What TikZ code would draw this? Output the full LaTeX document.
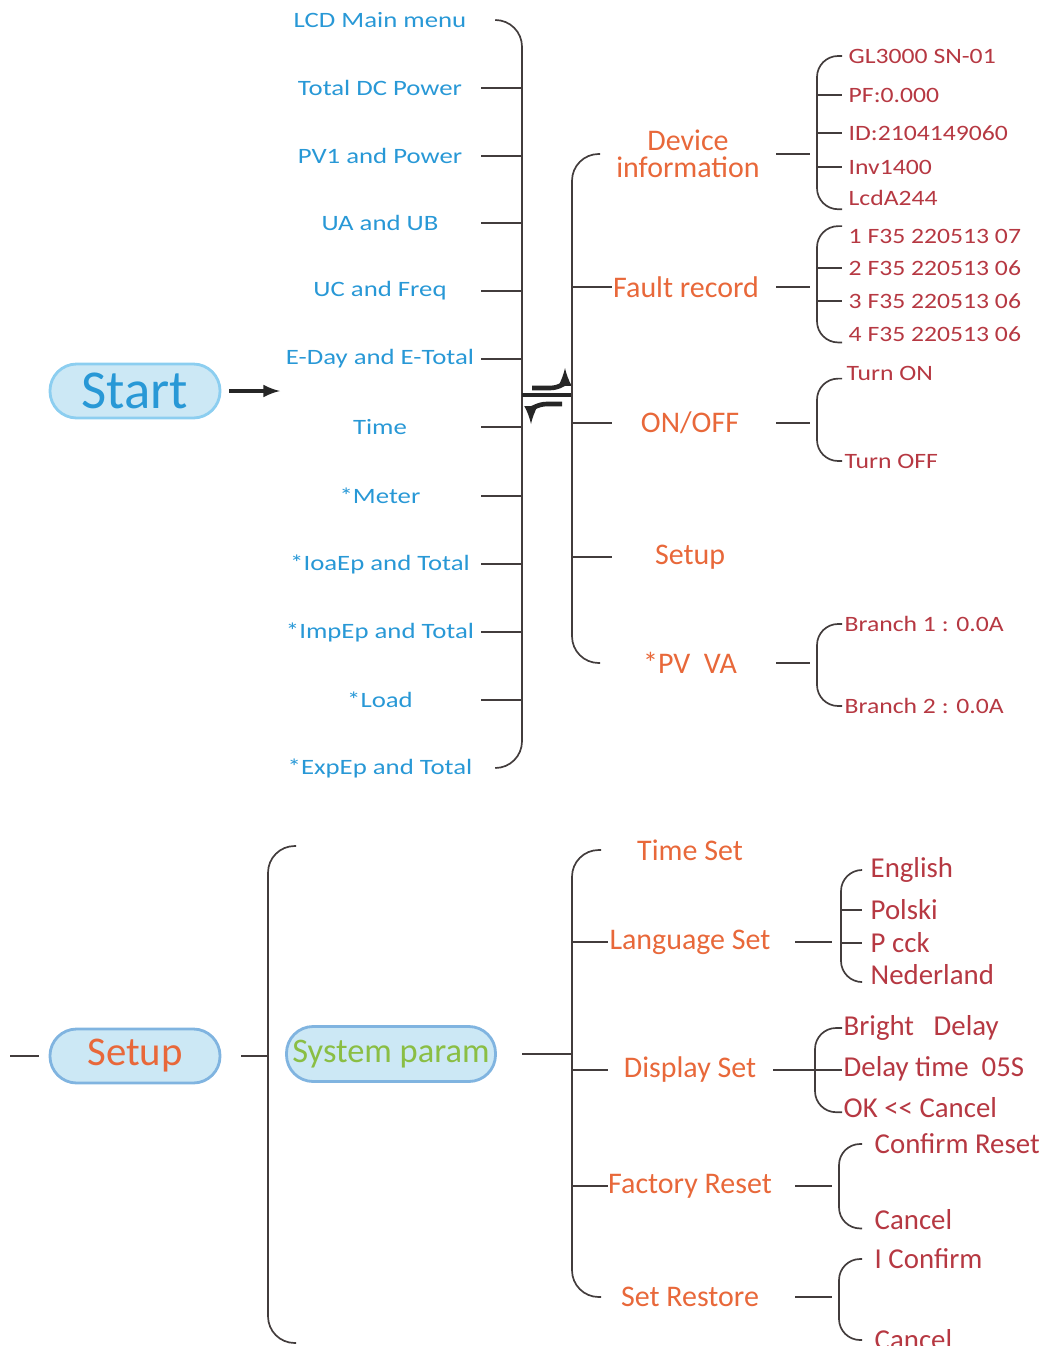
\documentclass[tikz,border=0pt]{standalone}
\usepackage{fontspec}
\setmainfont{Carlito}
\newfontfamily\bluefont[FakeStretch=1.22]{Carlito}
\newfontfamily\redfont[FakeStretch=1.17]{Carlito}
\definecolor{menublue}{RGB}{40,152,214}
\definecolor{menuorange}{RGB}{232,104,58}
\definecolor{itemred}{RGB}{182,56,66}
\definecolor{paramgreen}{RGB}{138,190,68}
\definecolor{pillfill}{RGB}{204,232,245}
\definecolor{startedge}{RGB}{140,206,240}
\definecolor{setupedge}{RGB}{128,180,224}
\definecolor{wire}{RGB}{66,60,60}
\tikzset{
  conn/.style={draw=wire, line width=1.2pt},
  brace/.style={conn, rounded corners=15pt},
  bigbrace/.style={conn, rounded corners=19pt},
  mainitem/.style={text=menublue, inner sep=1pt, font=\bluefont\fontsize{15.6}{18}\selectfont},
  subitem/.style={text=menuorange, inner sep=1pt, align=center, font=\fontsize{21.3}{19.5}\selectfont},
  leaf/.style={text=itemred, inner sep=1pt, anchor=west, font=\redfont\fontsize{15.6}{18}\selectfont},
  bigleaf/.style={text=itemred, inner sep=1pt, anchor=west, font=\fontsize{20.5}{24}\selectfont},
  pill/.style={rectangle, rounded corners=19pt, fill=pillfill, line width=2pt, minimum height=1.35cm}
}
\begin{document}
\begin{tikzpicture}[x=0.025cm, y=-0.025cm]
    \useasboundingbox (0,0) rectangle (1055,1346);
    % Inicio y menu principal
    \node[pill, draw=startedge, minimum width=4.25cm, text=menublue, font=\fontsize{39}{40}\selectfont] (start) at (135,391) {Start};
    \coordinate (starttip) at (280,391);
    \draw[-latex, line width=3pt, draw=black!85] (start.east) ++(5.5pt,0) -- (starttip);
    \node[mainitem] (lcd) at (380,20) {LCD Main menu};
    \node[mainitem] (dcpow) at (380,88) {Total DC Power};
    \node[mainitem] (pv1) at (380,156) {PV1 and Power};
    \node[mainitem] (uaub) at (380,223) {UA and UB};
    \node[mainitem] (ucfreq) at (380,291) {UC and Freq};
    \node[mainitem] (eday) at (380,359) {E-Day and E-Total};
    \node[mainitem] (time) at (380,427) {Time};
    \node[mainitem] (meter) at (380,496) {*Meter};
    \node[mainitem] (ioaep) at (380,564) {*IoaEp and Total};
    \node[mainitem] (impep) at (380,632) {*ImpEp and Total};
    \node[mainitem] (load) at (380,700) {*Load};
    \node[mainitem] (expep) at (380,768) {*ExpEp and Total};
    \coordinate (lstub) at (481,0);
    \coordinate (lend) at (496,0);
    \coordinate (lspine) at (522,0);
    \draw[bigbrace] (lcd -| lend) -- (lcd -| lspine) -- (expep -| lspine) -- (expep -| lend);
    \draw[conn] (dcpow -| lstub) -- (dcpow -| lspine) (pv1 -| lstub) -- (pv1 -| lspine)
        (uaub -| lstub) -- (uaub -| lspine) (ucfreq -| lstub) -- (ucfreq -| lspine)
        (eday -| lstub) -- (eday -| lspine) (time -| lstub) -- (time -| lspine)
        (meter -| lstub) -- (meter -| lspine) (ioaep -| lstub) -- (ioaep -| lspine)
        (impep -| lstub) -- (impep -| lspine) (load -| lstub) -- (load -| lspine);
    % Cambio entre menus
    \draw[line width=2.2pt, draw=black!85] (522,395) -- (572,395);
    \draw[-latex, line width=3.3pt, draw=black!85] (532,388) -- (550,388) .. controls (560,388) and (565,382) .. (565,368);
    \draw[-latex, line width=3.3pt, draw=black!85] (562,404) -- (547,404) .. controls (537,404) and (531,410) .. (531,424);
    % Submenu
    \node[subitem] (devinfo) at (688,154) {Device\\information};
    \node[subitem] (fault) at (686,287) {Fault record};
    \node[subitem] (onoff) at (690,423) {ON/OFF};
    \node[subitem] (setupitem) at (690,557) {Setup};
    \node[subitem] (pvva) at (690,663) {*PV~~VA};
    \coordinate (mspine) at (572,0);
    \coordinate (mend) at (600,0);
    \coordinate (mstub) at (612,0);
    \draw[bigbrace] (devinfo -| mend) -- (devinfo -| mspine) -- (pvva -| mspine) -- (pvva -| mend);
    \draw[conn] (fault -| mspine) -- (fault -| mstub) (onoff -| mspine) -- (onoff -| mstub)
        (setupitem -| mspine) -- (setupitem -| mstub);
    \coordinate (rin) at (776,0);
    \coordinate (rout) at (810,0);
    \draw[conn] (devinfo -| rin) -- (devinfo -| rout) (fault -| rin) -- (fault -| rout)
        (onoff -| rin) -- (onoff -| rout) (pvva -| rin) -- (pvva -| rout);
    % Datos de cada submenu
    \node[leaf] (gl) at (847,56) {GL3000 SN-01};
    \node[leaf] (pf) at (847,95) {PF:0.000};
    \node[leaf] (idn) at (847,133) {ID:2104149060};
    \node[leaf] (inv) at (847,167) {Inv1400};
    \node[leaf] (lcda) at (847,198) {LcdA244};
    \node[leaf] (fa) at (847,236) {1 F35 220513 07};
    \node[leaf] (fb) at (847,268) {2 F35 220513 06};
    \node[leaf] (fc) at (847,301) {3 F35 220513 06};
    \node[leaf] (fd) at (847,334) {4 F35 220513 06};
    \node[leaf] (ton) at (845,373) {Turn ON};
    \node[leaf] (toff) at (843,461) {Turn OFF};
    \node[leaf] (bra) at (843,624) {Branch 1 : 0.0A};
    \node[leaf] (brb) at (843,706) {Branch 2 : 0.0A};
    \coordinate (rspine) at (817,0);
    \coordinate (rend) at (842,0);
    \draw[brace] (gl -| rend) -- (gl -| rspine) -- ([yshift=-8pt]lcda.center -| rspine) -- ([yshift=-8pt]lcda.center -| rend);
    \draw[conn] (pf -| rspine) -- (pf -| rend) (idn -| rspine) -- (idn -| rend) (inv -| rspine) -- (inv -| rend);
    \draw[brace] ([yshift=7pt]fa.center -| rend) -- ([yshift=7pt]fa.center -| rspine) -- ([yshift=-6pt]fd.center -| rspine) -- ([yshift=-6pt]fd.center -| rend);
    \draw[conn] (fb -| rspine) -- (fb -| rend) (fc -| rspine) -- (fc -| rend);
    \draw[brace] ([yshift=-4pt]ton.center -| rend) -- ([yshift=-4pt]ton.center -| rspine) -- (toff -| rspine) -- (toff -| rend);
    \draw[brace] (bra -| rend) -- (bra -| rspine) -- (brb -| rspine) -- (brb -| rend);
    % Menu de ajustes
    \coordinate (setupin) at (10,1056);
    \node[pill, draw=setupedge, minimum width=4.25cm, text=menuorange, font=\fontsize{29}{30}\selectfont] (setup) at (135,1056) {Setup};
    \draw[conn, shorten >=7pt] (setupin) -- (setup.west);
    \coordinate (sspine) at (268,0);
    \coordinate (stop) at (296,846);
    \coordinate (sbot) at (296,1343);
    \draw[conn, shorten <=14pt] (setup.east) -- (setup -| sspine);
    \draw[bigbrace] (stop) -- (stop -| sspine) -- (sbot -| sspine) -- (sbot);
    \node[pill, draw=setupedge, minimum width=5.225cm, minimum height=1.375cm, inner sep=1pt, text=paramgreen, font=\fontsize{24.5}{26}\selectfont] (sysparam) at (391,1054) {System param};
    \coordinate (pin) at (522,0);
    \coordinate (bspine) at (572,0);
    \coordinate (bend) at (601,0);
    \coordinate (bstub) at (608,0);
    \draw[conn] (sysparam -| pin) -- (sysparam -| bspine);
    \node[subitem] (timeset) at (690,850) {Time Set};
    \node[subitem] (langset) at (690,942) {Language Set};
    \node[subitem] (dispset) at (690,1070) {Display Set};
    \node[subitem] (factreset) at (690,1186) {Factory Reset};
    \node[subitem] (setrestore) at (690,1297) {Set Restore};
    \draw[bigbrace] (timeset -| bend) -- (timeset -| bspine) -- (setrestore -| bspine) -- (setrestore -| bend);
    \draw[conn] (langset -| bspine) -- (langset -| bstub) (dispset -| bspine) -- (dispset -| bstub)
        (factreset -| bspine) -- (factreset -| bstub);
    \coordinate (lin) at (795,0);
    \coordinate (lout) at (832,0);
    \coordinate (din) at (773,0);
    \draw[conn] (langset -| lin) -- (langset -| lout) (factreset -| lin) -- (factreset -| lout)
        (setrestore -| lin) -- (setrestore -| lout);
    % Opciones de ajustes
    \node[bigleaf] (english) at (869,870) {English};
    \node[bigleaf] (polski) at (869,910) {Polski};
    \node[bigleaf] (pcck) at (869,943) {P cck};
    \node[bigleaf] (nederland) at (869,975) {Nederland};
    \node[bigleaf] (bright) at (842,1028) {Bright~~~Delay};
    \node[bigleaf] (delay) at (842,1069) {Delay time~~05S};
    \node[bigleaf] (okcancel) at (842,1108) {OK <\kern0pt< Cancel};
    \node[bigleaf] (confirmreset) at (873,1144) {Confirm Reset};
    \node[bigleaf] (cancela) at (873,1220) {Cancel};
    \node[bigleaf] (iconfirm) at (873,1259) {I Confirm};
    \node[bigleaf] (cancelb) at (873,1340) {Cancel};
    \coordinate (lgspine) at (841,0);
    \coordinate (lgend) at (862,0);
    \draw[brace] (english -| lgend) -- (english -| lgspine) -- ([yshift=-5pt]nederland.center -| lgspine) -- ([yshift=-5pt]nederland.center -| lgend);
    \draw[conn] (polski -| lgspine) -- (polski -| lgend) (pcck -| lgspine) -- (pcck -| lgend);
    \coordinate (dspine) at (815,0);
    \coordinate (dend) at (842,0);
    \draw[conn] (dispset -| din) -- (dispset -| dend);
    \draw[brace] (bright -| dend) -- (bright -| dspine) -- ([yshift=-3pt]okcancel.center -| dspine) -- ([yshift=-3pt]okcancel.center -| dend);
    \coordinate (fspine) at (839,0);
    \coordinate (fend) at (862,0);
    \draw[brace] (confirmreset -| fend) -- (confirmreset -| fspine) -- ([yshift=-6pt]cancela.center -| fspine) -- ([yshift=-6pt]cancela.center -| fend);
    \draw[brace] (iconfirm -| fend) -- (iconfirm -| fspine) -- (cancelb -| fspine) -- (cancelb -| fend);
\end{tikzpicture}
\end{document}
